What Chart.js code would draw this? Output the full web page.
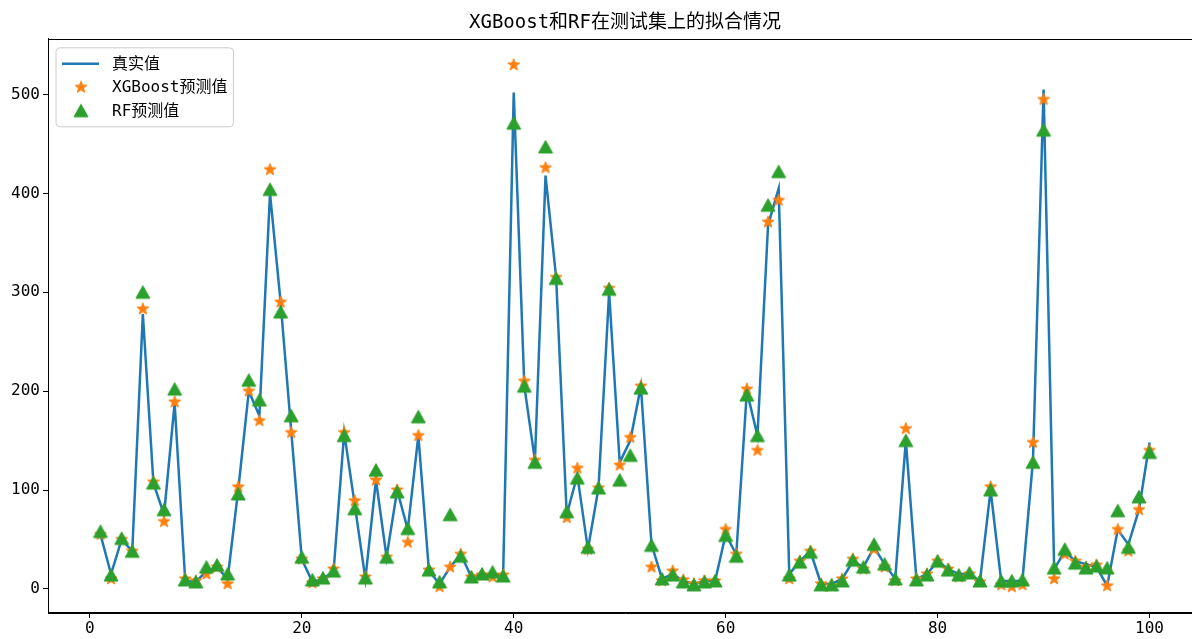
<!DOCTYPE html>
<html><head><meta charset="utf-8">
<script src="https://cdn.jsdelivr.net/npm/chart.js@4.4.0/dist/chart.umd.min.js"></script>
<style>html,body{margin:0;padding:0;background:#fff;overflow:hidden}#wrap{width:1192px;height:639px;overflow:hidden}</style>
</head><body><div id="wrap"><canvas id="c" width="1203" height="639"></canvas></div>
<script>
const xValues = [];
for (let i = 1; i <= 100; i++) xValues.push(i);
const trueValues = [55,15,50,38,278,107,75,188,8,7, 18,22,10,100,200,175,400,290,160,30,
  7,10,18,158,85,10,110,32,100,60, 155,18,5,22,35,12,15,15,14,502,
  205,130,418,315,75,115,40,102,300,128, 150,205,45,10,15,8,5,8,8,55,
  35,200,155,368,405,15,28,38,5,5, 10,28,22,42,25,10,150,10,15,28,
  20,15,15,8,100,8,8,8,130,505, 20,38,28,25,22,3,60,45,80,148];
const xgbValues = [55,10,50,38,283,108,68,189,10,8, 15,22,5,103,200,170,424,290,158,30,
  6,10,20,158,89,12,110,32,100,47, 155,19,2,22,35,12,14,12,14,530,
  210,130,426,315,72,122,40,102,304,125, 153,205,22,8,18,9,5,8,8,60,
  35,202,140,371,393,10,28,38,5,3, 10,30,20,40,22,8,162,10,15,28,
  20,12,15,7,103,4,2,4,148,495, 10,35,28,22,24,3,60,38,80,140];
const rfValues = [58,14,51,38,300,107,80,202,9,7, 22,24,15,96,211,191,404,280,175,32,
  9,11,18,155,81,11,120,32,98,61, 174,19,7,75,33,12,15,17,13,471,
  205,128,447,314,78,112,42,102,303,110, 135,203,44,10,14,7,4,7,8,54,
  33,196,155,388,422,14,27,37,4,4, 8,29,22,45,25,10,150,9,14,28,
  19,14,16,8,100,8,8,9,128,464, 21,40,26,21,23,21,79,42,93,138];
const xTicks = [0,20,40,60,80,100];
const yTicks = [0,100,200,300,400,500];
const titleText = 'XGBoost和RF在测试集上的拟合情况';
const seriesNames = ['真实值','XGBoost预测值','RF预测值'];

const FONT = "'DejaVu Sans Mono', 'Noto Sans CJK SC', sans-serif";
const BLUE = '#1f77b4', ORANGE = '#ff7f0e', GREEN = '#2ca02c';

function makeStar() {
  const s = 16, c = document.createElement('canvas'); c.width = s; c.height = s;
  const g = c.getContext('2d'); const cx = s/2, cy = s/2, R = 6.2, r = 2.6;
  g.beginPath();
  for (let i = 0; i < 10; i++) {
    const a = -Math.PI/2 + i*Math.PI/5, rad = (i % 2) ? r : R;
    g.lineTo(cx + rad*Math.cos(a), cy + rad*Math.sin(a));
  }
  g.closePath(); g.fillStyle = ORANGE; g.fill();
  g.lineWidth = 1; g.strokeStyle = ORANGE; g.stroke();
  return c;
}
function makeTri() {
  const s = 16, c = document.createElement('canvas'); c.width = s; c.height = s;
  const g = c.getContext('2d');
  g.beginPath(); g.moveTo(8, 1.5); g.lineTo(1, 14); g.lineTo(15, 14); g.closePath();
  g.fillStyle = GREEN; g.fill(); g.lineWidth = 1; g.strokeStyle = GREEN; g.stroke();
  return c;
}
const starImg = makeStar(), triImg = makeTri();

const toXY = arr => xValues.map((x, i) => ({x: x, y: arr[i]}));

const framePlugin = {
  id: 'frameLegend',
  afterDatasetsDraw(chart) {
    const ctx = chart.ctx, a = chart.chartArea;
    ctx.save();
    ctx.strokeStyle = '#000'; ctx.lineWidth = 1;
    ctx.strokeRect(Math.round(a.left) + 0.5, Math.round(a.top) + 0.5,
                   Math.round(a.right - a.left) - 1, Math.round(a.bottom - a.top) - 1);
    ctx.font = '16px ' + FONT;
    let maxW = 0;
    seriesNames.forEach(t => { maxW = Math.max(maxW, ctx.measureText(t).width); });
    const bx = a.left + 8, by = a.top + 9, bw = 56 + maxW + 6, bh = 79, rr = 4;
    ctx.beginPath();
    ctx.moveTo(bx + rr, by); ctx.lineTo(bx + bw - rr, by); ctx.arcTo(bx + bw, by, bx + bw, by + rr, rr);
    ctx.lineTo(bx + bw, by + bh - rr); ctx.arcTo(bx + bw, by + bh, bx + bw - rr, by + bh, rr);
    ctx.lineTo(bx + rr, by + bh); ctx.arcTo(bx, by + bh, bx, by + bh - rr, rr);
    ctx.lineTo(bx, by + rr); ctx.arcTo(bx, by, bx + rr, by, rr); ctx.closePath();
    ctx.fillStyle = 'rgba(255,255,255,0.8)'; ctx.fill();
    ctx.strokeStyle = '#cccccc'; ctx.lineWidth = 1; ctx.stroke();
    const rows = [by + 16, by + 39.5, by + 63];
    ctx.strokeStyle = BLUE; ctx.lineWidth = 2.5;
    ctx.beginPath(); ctx.moveTo(bx + 6, rows[0]); ctx.lineTo(bx + 43, rows[0]); ctx.stroke();
    ctx.drawImage(starImg, bx + 25 - 8, rows[1] - 8);
    ctx.drawImage(triImg, bx + 25 - 8, rows[2] - 8);
    ctx.fillStyle = '#000'; ctx.textBaseline = 'middle'; ctx.textAlign = 'left';
    seriesNames.forEach((t, i) => ctx.fillText(t, bx + 56, rows[i] + 1));
    ctx.restore();
  }
};

new Chart(document.getElementById('c'), {
  type: 'line',
  data: {
    datasets: [
      { label: seriesNames[0], data: toXY(trueValues), borderColor: BLUE, backgroundColor: BLUE,
        borderWidth: 2.5, pointRadius: 0, tension: 0, fill: false, order: 3 },
      { label: seriesNames[1], data: toXY(xgbValues), showLine: false, pointStyle: starImg,
        pointRadius: 6, borderColor: ORANGE, backgroundColor: ORANGE, order: 2 },
      { label: seriesNames[2], data: toXY(rfValues), showLine: false, pointStyle: triImg,
        pointRadius: 6, borderColor: GREEN, backgroundColor: GREEN, order: 1 }
    ]
  },
  options: {
    responsive: false, animation: false, devicePixelRatio: 1, events: [],
    layout: { autoPadding: false, padding: { left: 0, right: 1, top: 0, bottom: 0 } },
    plugins: {
      legend: { display: false }, tooltip: { enabled: false },
      title: { display: true, fullSize: false, text: titleText, color: '#000',
        font: { family: FONT, size: 19, weight: 'normal', lineHeight: 1.2 },
        padding: { top: 12, bottom: 4 } }
    },
    scales: {
      x: { type: 'linear', min: -3.95, max: 104.95,
        afterBuildTicks: s => { s.ticks = xTicks.map(v => ({ value: v })); },
        afterFit: s => { s.height = 26; s.paddingLeft = 0; s.paddingRight = 0; },
        ticks: { color: '#000', font: { family: FONT, size: 16 }, padding: 1, maxRotation: 0, autoSkip: false },
        grid: { drawOnChartArea: false, drawTicks: true, tickLength: 5, color: '#000', tickColor: '#000' },
        border: { display: true, color: '#000', width: 1 } },
      y: { type: 'linear', min: -24.4, max: 556.4,
        afterBuildTicks: s => { s.ticks = yTicks.map(v => ({ value: v })); },
        afterFit: s => { s.width = 48; s.paddingTop = 0; s.paddingBottom = 0; },
        ticks: { color: '#000', font: { family: FONT, size: 16 }, padding: 3, autoSkip: false },
        grid: { drawOnChartArea: false, drawTicks: true, tickLength: 5, color: '#000', tickColor: '#000' },
        border: { display: true, color: '#000', width: 1 } }
    }
  },
  plugins: [framePlugin]
});
</script></body></html>
